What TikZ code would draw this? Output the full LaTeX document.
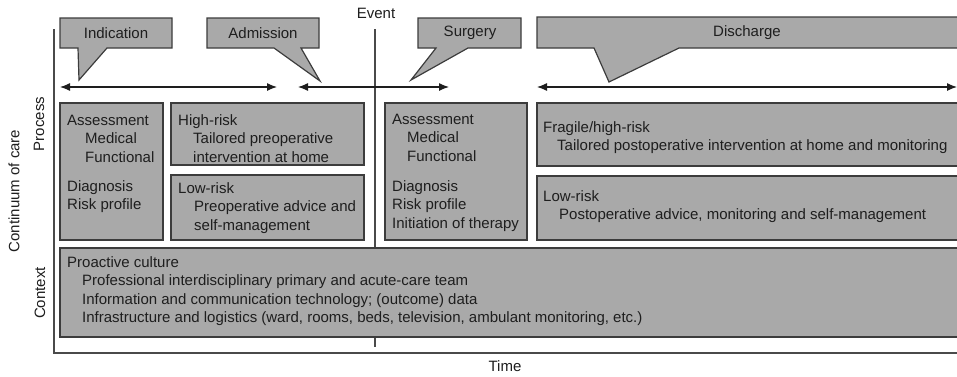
\documentclass[tikz,border=0pt]{standalone}
\usepackage{fontspec}
\setmainfont{Liberation Sans}
\usetikzlibrary{arrows.meta}
\definecolor{boxfill}{HTML}{A9A9A9}
\definecolor{edge}{HTML}{3C3C3C}
\definecolor{axis}{HTML}{4A4A4A}
\definecolor{ink}{HTML}{1E1E1E}
\newcommand\dfont{\fontsize{15}{18}\selectfont}
\newcommand\txtline[4]{\node[lbl] (#1) at (#2,#3) {#4};}
\begin{document}
\begin{tikzpicture}[x=1pt,y=-1pt,
  box/.style={draw=edge, fill=boxfill, line width=1.2pt, line join=miter},
  ax/.style={draw=axis, line width=1.2pt},
  lbl/.style={inner sep=0pt, anchor=base west, font=\dfont, text=ink},
  ctr/.style={inner sep=0pt, font=\dfont, text=ink},
  dbl/.style={{Latex[length=10pt,width=8pt]}-{Latex[length=10pt,width=8pt]}, line width=1.2pt, draw=ink}]
\useasboundingbox (0,0) rectangle (957,376);

% axes
\coordinate (axtop) at (54,29);
\coordinate (axcorner) at (54,353);
\coordinate (axright) at (965,353);
\coordinate (evtop) at (375,29);
\coordinate (evbot) at (375,347);
\draw[ax] (axtop) -- (axcorner) -- (axright);
\draw[ax] (evtop) -- (evbot);

\node[ctr] (event) at (376,13) {Event};
\node[ctr] (time) at (505,366) {Time};
\node[ctr, rotate=90] (cont) at (14,191) {Continuum of care};
\node[ctr, rotate=90] (proc) at (39,124) {Process};
\node[ctr, rotate=90] (ctxt) at (40,293) {Context};

% callouts
\draw[box] (60,18) -- (172,18) -- (172,48) -- (107,48) -- (79,80) -- (78,48) -- (60,48) -- cycle;
\draw[box] (207,18) -- (319,18) -- (319,48) -- (301,48) -- (320,81) -- (274,48) -- (207,48) -- cycle;
\draw[box] (418,18) -- (521,18) -- (521,48) -- (468,48) -- (411,80) -- (436,48) -- (418,48) -- cycle;
\draw[box] (537,17) -- (965,17) -- (965,48) -- (679,48) -- (609,82) -- (594,48) -- (537,48) -- cycle;
\node[ctr] (ind) at (116,33) {Indication};
\node[ctr] (adm) at (263,33) {Admission};
\node[ctr] (sur) at (470,33) {Surgery};
\node[ctr] (dis) at (747,33) {Discharge};

% time arrows
\coordinate (a1l) at (60,87);  \coordinate (a1r) at (277,87);
\coordinate (a2l) at (298,87); \coordinate (a2r) at (449,87);
\coordinate (a3l) at (537,87); \coordinate (a3r) at (957,87);
\draw[dbl] (a1l) -- (a1r);
\draw[dbl] (a2l) -- (a2r);
\draw[dbl] (a3l) -- (a3r);

% process boxes
\draw[box] (60,103) rectangle (163,240);
\draw[box] (171,103) rectangle (364,165);
\draw[box] (171,175) rectangle (364,240);
\draw[box] (385,103) rectangle (527,240);
\draw[box] (537,103) rectangle (965,166);
\draw[box] (537,176) rectangle (965,240);
% context box
\draw[box] (60,248) rectangle (965,337);

% texts box 1
\txtline{p1a}{67}{125}{Assessment}
\txtline{p1b}{85}{143.5}{Medical}
\txtline{p1c}{85}{162}{Functional}
\txtline{p1d}{67}{191}{Diagnosis}
\txtline{p1e}{67}{209.5}{Risk profile}
% high-risk
\txtline{hra}{178}{125}{High-risk}
\txtline{hrb}{193}{143.5}{Tailored preoperative}
\txtline{hrc}{193}{162}{intervention at home}
% low-risk pre
\txtline{lra}{178}{193}{Low-risk}
\txtline{lrb}{194}{211.5}{Preoperative advice and}
\txtline{lrc}{194}{230}{self-management}
% box surgery
\txtline{p2a}{392}{124}{Assessment}
\txtline{p2b}{407}{142.5}{Medical}
\txtline{p2c}{407}{161}{Functional}
\txtline{p2d}{392}{191}{Diagnosis}
\txtline{p2e}{392}{209.5}{Risk profile}
\txtline{p2f}{392}{228}{Initiation of therapy}
% fragile
\txtline{fra}{543}{132}{Fragile/high-risk}
\txtline{frb}{557}{150}{Tailored postoperative intervention at home and monitoring}
% low-risk post
\txtline{lpa}{543}{201}{Low-risk}
\txtline{lpb}{559}{219}{Postoperative advice, monitoring and self-management}
% context
\txtline{cxa}{67}{267}{Proactive culture}
\txtline{cxb}{82}{285.5}{Professional interdisciplinary primary and acute-care team}
\txtline{cxc}{82}{304}{Information and communication technology; (outcome) data}
\txtline{cxd}{82}{322.5}{Infrastructure and logistics (ward, rooms, beds, television, ambulant monitoring, etc.)}
\end{tikzpicture}
\end{document}
